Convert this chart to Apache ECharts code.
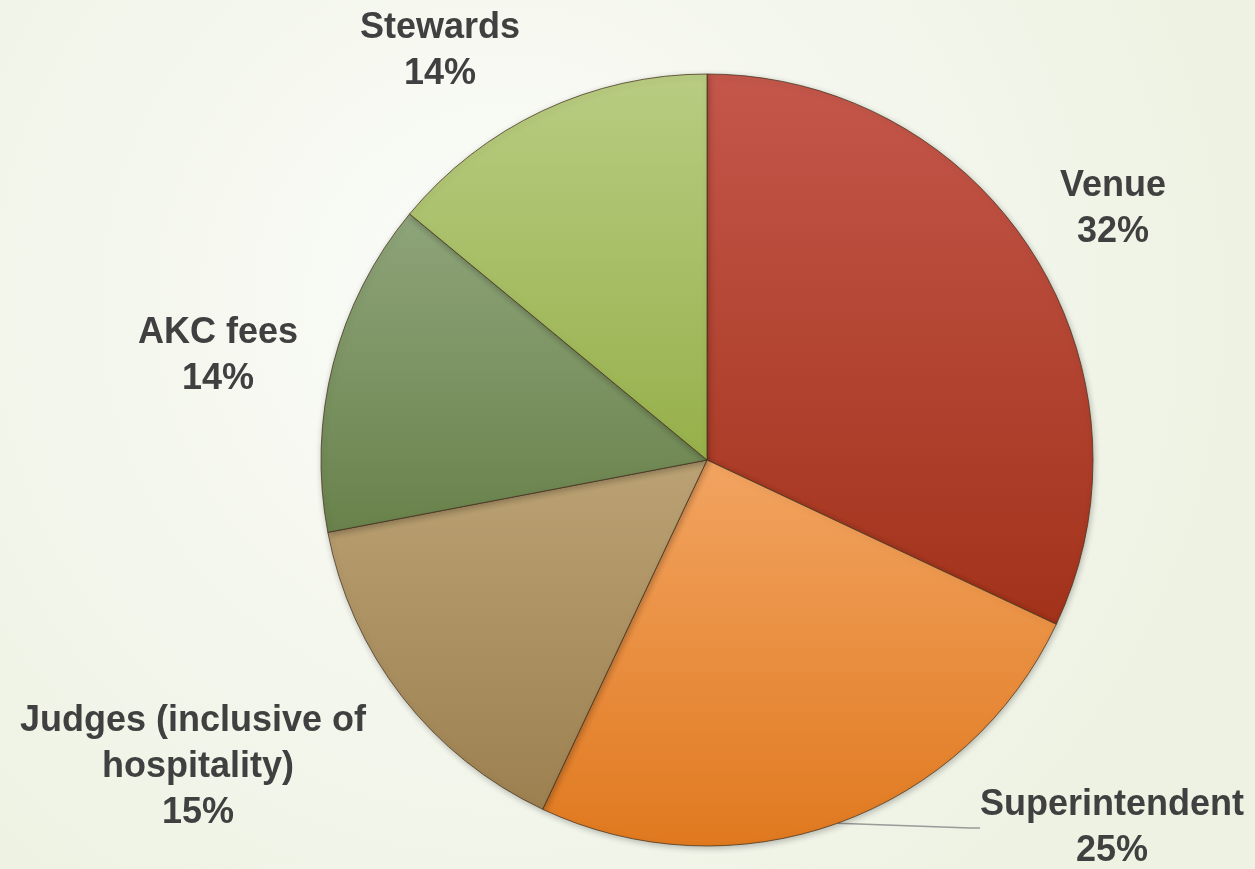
<!DOCTYPE html>
<html>
<head>
<meta charset="utf-8">
<script src="https://cdn.jsdelivr.net/npm/echarts@6/dist/echarts.min.js"></script>
<style>
  html, body { margin: 0; padding: 0; }
  #chart { width: 1255px; height: 869px; }
</style>
</head>
<body>
<div id="chart"></div>
<script>
// Show budget breakdown
const categories = ['Venue', 'Superintendent', 'Judges (inclusive of hospitality)', 'AKC fees', 'Stewards'];
const shares = [32, 25, 15, 14, 14];

// slice fills: [top colour, bottom colour]
const sliceColors = [
  ['#c4574b', '#a2321a'],
  ['#f2a461', '#e0791f'],
  ['#bba274', '#9c8050'],
  ['#8ea47a', '#69824b'],
  ['#b9cc82', '#96b04a']
];

// label anchor points (centre of each label block)
const labelSpots = [
  [1113, 209],
  [1112, 828],
  [198, 767],
  [218, 356],
  [440, 51]
];

const chart = echarts.init(document.getElementById('chart'));

const data = categories.map((name, i) => {
  const item = {
    name: name,
    value: shares[i],
    itemStyle: {
      color: {
        type: 'linear', x: 0, y: 0, x2: 0, y2: 1,
        colorStops: [
          { offset: 0, color: sliceColors[i][0] },
          { offset: 1, color: sliceColors[i][1] }
        ]
      }
    },
    labelLine: { show: i === 1 }
  };
  // the long judges name wraps onto two lines
  if (i === 2) {
    item.label = { width: 370, overflow: 'break' };
  }
  return item;
});

chart.setOption({
  backgroundColor: {
    type: 'radial', x: 0.4, y: 0.35, r: 0.85,
    colorStops: [
      { offset: 0, color: '#fbfcf9' },
      { offset: 1, color: '#eef2e3' }
    ]
  },
  series: [{
    type: 'pie',
    center: [707, 460],
    radius: 386,
    startAngle: 90,
    clockwise: true,
    data: data,
    animation: false,
    itemStyle: {
      borderColor: 'rgba(70,50,30,0.75)',
      borderWidth: 1,
      shadowColor: 'rgba(0,0,0,0.25)',
      shadowBlur: 6,
      shadowOffsetX: 1,
      shadowOffsetY: 2
    },
    label: {
      show: true,
      position: 'outside',
      formatter: '{b}\n{c}%',
      fontFamily: 'Liberation Sans',
      fontWeight: 'bold',
      fontSize: 36,
      lineHeight: 46,
      color: '#404040',
      align: 'center'
    },
    labelLine: {
      lineStyle: { color: '#9a9a9a', width: 1.5 },
      length: 10,
      length2: 10
    },
    labelLayout: function (params) {
      const p = labelSpots[params.dataIndex];
      return { x: p[0], y: p[1], align: 'center', verticalAlign: 'middle' };
    }
  }]
});
</script>
</body>
</html>
